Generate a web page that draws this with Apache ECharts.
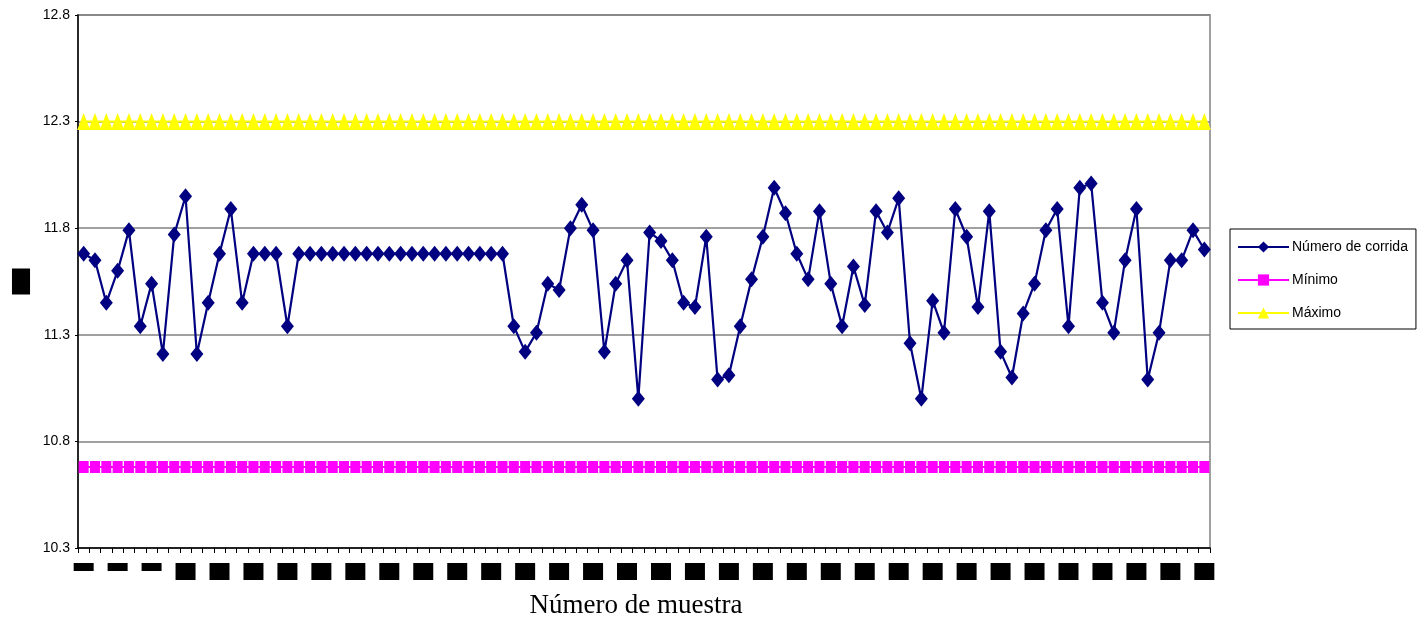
<!DOCTYPE html>
<html>
<head>
<meta charset="utf-8">
<script src="https://cdn.jsdelivr.net/npm/echarts@6/dist/echarts.min.js"></script>
<style>
html,body{margin:0;padding:0;background:#fff;}
#chart{width:1424px;height:618px;}
</style>
</head>
<body>
<div id="chart"></div>
<script>
// Sample numbers (x categories)
const categories = [];
for (let i = 1; i <= 100; i++) categories.push(String(i));

// Run values (Número de corrida)
const corrida = [
  11.68, 11.65, 11.45, 11.60, 11.79, 11.34, 11.54, 11.21, 11.77, 11.95,
  11.21, 11.45, 11.68, 11.89, 11.45, 11.68, 11.68, 11.68, 11.34, 11.68,
  11.68, 11.68, 11.68, 11.68, 11.68, 11.68, 11.68, 11.68, 11.68, 11.68,
  11.68, 11.68, 11.68, 11.68, 11.68, 11.68, 11.68, 11.68, 11.34, 11.22,
  11.31, 11.54, 11.51, 11.80, 11.91, 11.79, 11.22, 11.54, 11.65, 11.00,
  11.78, 11.74, 11.65, 11.45, 11.43, 11.76, 11.09, 11.11, 11.34, 11.56,
  11.76, 11.99, 11.87, 11.68, 11.56, 11.88, 11.54, 11.34, 11.62, 11.44,
  11.88, 11.78, 11.94, 11.26, 11.00, 11.46, 11.31, 11.89, 11.76, 11.43,
  11.88, 11.22, 11.10, 11.40, 11.54, 11.79, 11.89, 11.34, 11.99, 12.01,
  11.45, 11.31, 11.65, 11.89, 11.09, 11.31, 11.65, 11.65, 11.79, 11.70
];

// Limits
const MIN_VALUE = 10.68;
const MAX_VALUE = 12.3;
const minimo = categories.map(() => MIN_VALUE);
const maximo = categories.map(() => MAX_VALUE);

// Y tick labels
const yTicks = [10.3, 10.8, 11.3, 11.8, 12.3, 12.8];

const seriesNames = ['Número de corrida', 'Mínimo', 'Máximo'];

const chart = echarts.init(document.getElementById('chart'), null, {renderer: 'canvas'});
chart.setOption({
  animation: false,
  backgroundColor: '#ffffff',
  textStyle: {fontFamily: 'Liberation Sans, Arial, sans-serif'},
  grid: {
    left: 78, right: 214, top: 15, bottom: 70,
    outerBoundsMode: 'none',
    containLabel: false,
    show: true, borderColor: '#a0a0a0', borderWidth: 2, backgroundColor: 'transparent'
  },
  legend: {
    orient: 'vertical',
    left: 1230, top: 229,
    padding: [11, 8, 9, 7],
    itemGap: 19,
    itemWidth: 51, itemHeight: 14,
    borderColor: '#000', borderWidth: 1, backgroundColor: '#fff',
    textStyle: {fontSize: 14, color: '#000', fontFamily: 'Liberation Sans, Arial, sans-serif', padding: [0, 0, 0, -2]},
    data: seriesNames
  },
  xAxis: {
    type: 'category',
    data: categories,
    boundaryGap: true,
    name: 'Número de muestra',
    nameLocation: 'middle',
    nameGap: 44,
    nameTextStyle: {fontFamily: 'Liberation Serif, Times New Roman, serif', fontSize: 27, color: '#000', padding: [0, 16, 0, 0]},
    axisLine: {show: true, lineStyle: {color: '#000', width: 1.5}},
    axisTick: {show: true, interval: 0, length: 5, lineStyle: {color: '#000', width: 1}},
    axisLabel: {
      interval: 2,
      margin: 15,
      formatter: v => (v.length === 1 ? '{s|' + v + '}' : '{b|' + v + '}'),
      rich: {
        s: {width: 20, height: 8, lineHeight: 8, fontSize: 7, color: '#000', backgroundColor: '#000', align: 'center'},
        b: {width: 20, height: 17, lineHeight: 17, fontSize: 10, color: '#000', backgroundColor: '#000', align: 'center'}
      }
    },
    splitLine: {show: false}
  },
  yAxis: {
    type: 'value',
    min: 10.3,
    max: 12.8,
    name: 'Valor',
    nameLocation: 'middle',
    nameRotate: 0,
    nameGap: 57,
    nameTextStyle: {
      fontSize: 8, color: '#000', backgroundColor: '#000',
      width: 20, height: 26, lineHeight: 26, align: 'center', overflow: 'truncate'
    },
    axisLine: {show: true, lineStyle: {color: '#000', width: 1.5}},
    axisTick: {show: true, length: 3, inside: false, customValues: yTicks, lineStyle: {color: '#000'}},
    axisLabel: {
      customValues: yTicks,
      formatter: v => Number(v).toFixed(1),
      fontSize: 14, color: '#000', margin: 8
    },
    splitLine: {show: true, lineStyle: {color: '#808080', width: 1.5}}
  },
  series: [
    {
      name: seriesNames[0],
      type: 'line',
      data: corrida,
      symbol: 'diamond',
      symbolSize: [13, 16],
      showAllSymbol: true,
      itemStyle: {color: '#000080'},
      lineStyle: {color: '#000080', width: 2.2},
      z: 3
    },
    {
      name: seriesNames[1],
      type: 'line',
      data: minimo,
      symbol: 'rect',
      symbolSize: [10, 12],
      showAllSymbol: true,
      itemStyle: {color: '#ff00ff'},
      lineStyle: {color: '#ff00ff', width: 2},
      z: 3
    },
    {
      name: seriesNames[2],
      type: 'line',
      data: maximo,
      symbol: 'triangle',
      symbolSize: [13, 17],
      showAllSymbol: true,
      itemStyle: {color: '#ffff00'},
      lineStyle: {color: '#ffff00', width: 2},
      z: 3
    }
  ]
});
</script>
</body>
</html>
